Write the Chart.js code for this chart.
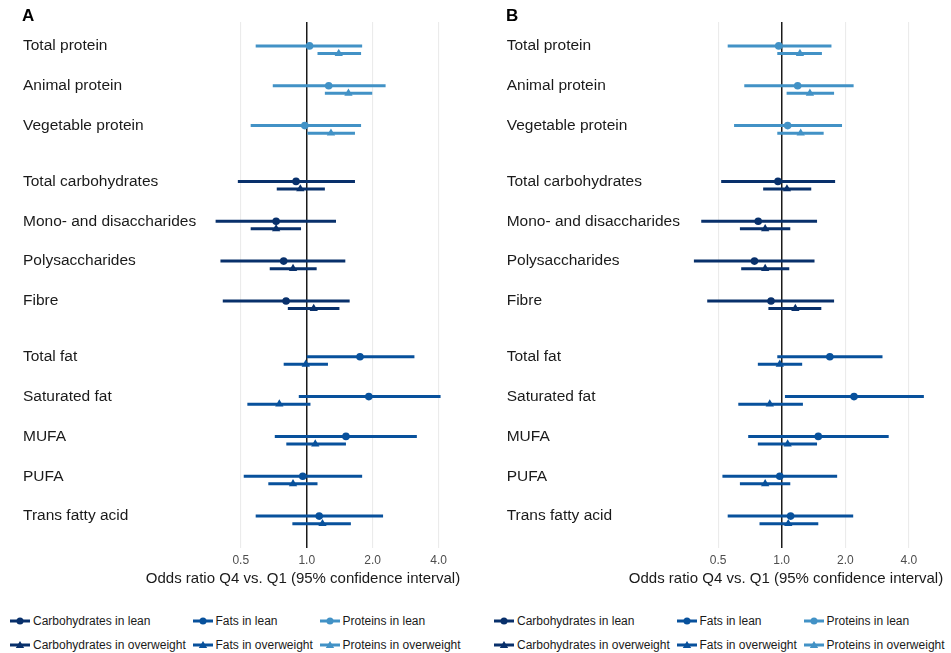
<!DOCTYPE html>
<html>
<head>
<meta charset="utf-8">
<script src="https://cdn.jsdelivr.net/npm/chart.js@4.4.1/dist/chart.umd.min.js"></script>
<style>
  body { margin: 0; background: #fff; font-family: "Liberation Sans", Arial, sans-serif; color: #1a1a1a; }
  #page { position: relative; width: 951px; height: 653px; overflow: hidden; }
  .panel { position: absolute; top: 0; height: 600px; }
  .tag { position: absolute; top: 6px; font-weight: bold; font-size: 17px; color: #000; }
  .xtitle { position: absolute; top: 569px; width: 400px; text-align: center; font-size: 15px; line-height: 18px; white-space: nowrap; }
  .legend-item { position: absolute; height: 14px; display: flex; align-items: center; font-size: 12px; white-space: nowrap; }
  .legend-item svg { margin-right: 3px; }
</style>
</head>
<body>
<div id="page">
  <div class="panel" style="left:0;width:475px"><canvas id="chartA" width="475" height="600"></canvas></div>
  <div class="panel" style="left:475px;width:476px"><canvas id="chartB" width="476" height="600"></canvas></div>
  <div class="tag" style="left:22px">A</div>
  <div class="tag" style="left:506px">B</div>
  <div class="xtitle" style="left:103px">Odds ratio Q4 vs. Q1 (95% confidence interval)</div>
  <div class="xtitle" style="left:586px">Odds ratio Q4 vs. Q1 (95% confidence interval)</div>
  <div id="legend"></div>
</div>
<script>
// nutrient rows, top to bottom; the gaps between groups are in rowPos
const nutrients = ['Total protein', 'Animal protein', 'Vegetable protein',
    'Total carbohydrates', 'Mono- and disaccharides', 'Polysaccharides', 'Fibre',
    'Total fat', 'Saturated fat', 'MUFA', 'PUFA', 'Trans fatty acid'];
const groups = ['Proteins', 'Proteins', 'Proteins',
    'Carbohydrates', 'Carbohydrates', 'Carbohydrates', 'Carbohydrates',
    'Fats', 'Fats', 'Fats', 'Fats', 'Fats'];
const rowPos = [0, 1, 2, 3.4, 4.4, 5.4, 6.4, 7.8, 8.8, 9.8, 10.8, 11.8];
const xTicks = [0.5, 1, 2, 4];

// panel A
const orLeanA = [1.03, 1.26, 0.98, 0.894, 0.725, 0.785, 0.805, 1.75, 1.92, 1.51, 0.959, 1.14];
const loLeanA = [0.585, 0.70, 0.555, 0.485, 0.384, 0.404, 0.414, 1.0, 0.92, 0.715, 0.516, 0.585];
const hiLeanA = [1.79, 2.29, 1.77, 1.66, 1.36, 1.50, 1.57, 3.10, 4.08, 3.18, 1.79, 2.23];
const orOverA = [1.40, 1.55, 1.29, 0.935, 0.725, 0.866, 1.076, 0.99, 0.75, 1.094, 0.866, 1.18];
const loOverA = [1.12, 1.21, 1.006, 0.73, 0.555, 0.678, 0.82, 0.785, 0.536, 0.807, 0.668, 0.86];
const hiOverA = [1.77, 1.99, 1.66, 1.21, 0.942, 1.11, 1.41, 1.25, 1.04, 1.51, 1.12, 1.59];

// panel B
const orLeanB = [0.968, 1.19, 1.067, 0.96, 0.774, 0.743, 0.89, 1.69, 2.2, 1.49, 0.979, 1.102];
const loLeanB = [0.555, 0.665, 0.595, 0.517, 0.416, 0.384, 0.444, 0.953, 1.036, 0.694, 0.524, 0.555];
const hiLeanB = [1.72, 2.19, 1.93, 1.79, 1.47, 1.43, 1.77, 3.0, 4.71, 3.21, 1.83, 2.18];
const orOverB = [1.22, 1.36, 1.23, 1.059, 0.835, 0.835, 1.16, 0.979, 0.878, 1.067, 0.835, 1.074];
const loOverB = [0.953, 1.055, 0.953, 0.817, 0.634, 0.643, 0.865, 0.771, 0.623, 0.771, 0.634, 0.785];
const hiOverB = [1.55, 1.77, 1.58, 1.38, 1.098, 1.086, 1.54, 1.25, 1.26, 1.47, 1.098, 1.49];

const groupColors = { Carbohydrates: '#08306b', Fats: '#08519c', Proteins: '#4292c6' };
const legendGroups = ['Carbohydrates', 'Fats', 'Proteins'];
const OVER_SHIFT = 0.19; // overweight row sits a bit under the lean row

function buildDatasets(series) {
    const sets = [];
    legendGroups.forEach(g => {
        series.forEach(s => {
            const rows = nutrients.map((_, i) => i).filter(i => groups[i] === g);
            const segs = [];
            rows.forEach(i => {
                const y = rowPos[i] + s.shift;
                segs.push({ x: s.lo[i], y }, { x: s.hi[i], y }, { x: null, y: null });
            });
            sets.push({
                data: segs, showLine: true, spanGaps: false, pointRadius: 0,
                borderColor: groupColors[g], borderWidth: 3, borderCapStyle: 'butt', order: 1
            });
            sets.push({
                data: rows.map(i => ({ x: s.or[i], y: rowPos[i] + s.shift })),
                pointStyle: s.shape, pointRadius: s.shape === 'circle' ? 3.8 : 4.8,
                backgroundColor: groupColors[g], borderWidth: 0, pointBorderWidth: 0, order: 0
            });
        });
    });
    return sets;
}

function makeChart(id, series, box) {
    const W = document.getElementById(id).width;
    return new Chart(document.getElementById(id), {
        type: 'scatter',
        data: { datasets: buildDatasets(series) },
        options: {
            responsive: false,
            animation: false,
            layout: { padding: { left: box.labelX, right: W - box.right, top: 22, bottom: 0 } },
            plugins: { legend: { display: false }, tooltip: { enabled: false } },
            scales: {
                x: {
                    type: 'logarithmic', bounds: 'data', min: box.min, max: box.max,
                    afterBuildTicks: scale => { scale.ticks = xTicks.map(v => ({ value: v })); },
                    afterFit: scale => { scale.height = 52; },
                    border: { display: false },
                    grid: {
                        drawTicks: false,
                        color: c => (c.tick && c.tick.value === 1) ? '#1a1a1a' : '#ebebeb',
                        lineWidth: c => (c.tick && c.tick.value === 1) ? 1.5 : 1.1
                    },
                    ticks: {
                        autoSkip: false, maxRotation: 0, padding: 5, color: '#4d4d4d',
                        font: { family: '"Liberation Sans", Arial', size: 12 },
                        callback: v => Number(v).toFixed(1)
                    }
                },
                y: {
                    type: 'linear', reverse: true, min: -0.6, max: 12.6,
                    afterBuildTicks: scale => { scale.ticks = rowPos.map(v => ({ value: v })); },
                    afterFit: scale => { scale.width = box.left - box.labelX; },
                    border: { display: false },
                    grid: { display: false, drawTicks: false },
                    ticks: {
                        autoSkip: false, crossAlign: 'far', padding: 0, color: '#1a1a1a',
                        font: { family: '"Liberation Sans", Arial', size: 15.5 },
                        callback: v => nutrients[rowPos.indexOf(v)]
                    }
                }
            }
        }
    });
}

makeChart('chartA', [
    { or: orLeanA, lo: loLeanA, hi: hiLeanA, shift: 0, shape: 'circle' },
    { or: orOverA, lo: loOverA, hi: hiOverA, shift: OVER_SHIFT, shape: 'triangle' }
], { labelX: 23, left: 204, right: 462, min: 0.3399, max: 5.11 });

makeChart('chartB', [
    { or: orLeanB, lo: loLeanB, hi: hiLeanB, shift: 0, shape: 'circle' },
    { or: orOverB, lo: loOverB, hi: hiOverB, shift: OVER_SHIFT, shape: 'triangle' }
], { labelX: 31.7, left: 205, right: 470, min: 0.33, max: 5.93 });

// legends under each panel, 3 columns x 2 rows
function icon(color, shape) {
    const m = shape === 'circle'
        ? `<circle cx="10" cy="5" r="3.5" fill="${color}"/>`
        : `<polygon points="10,1 14.2,8 5.8,8" fill="${color}"/>`;
    return `<svg width="20" height="10"><line x1="0" y1="5" x2="20" y2="5" stroke="${color}" stroke-width="3"/>${m}</svg>`;
}
const legend = document.getElementById('legend');
const colX = [10, 192.5, 319.5];
[0, 484].forEach(off => {
    legendGroups.forEach((g, c) => {
        [['lean', 'circle', 614], ['overweight', 'triangle', 638]].forEach(([st, shape, top]) => {
            const el = document.createElement('div');
            el.className = 'legend-item';
            el.style.left = (off + colX[c]) + 'px';
            el.style.top = top + 'px';
            el.innerHTML = icon(groupColors[g], shape) + `<span>${g} in ${st}</span>`;
            legend.appendChild(el);
        });
    });
});
</script>
</body>
</html>
